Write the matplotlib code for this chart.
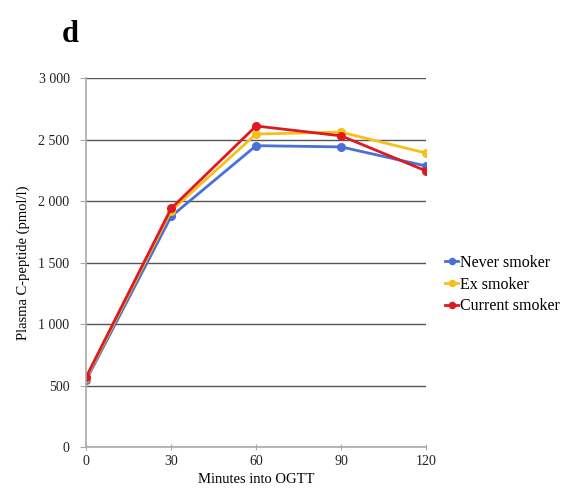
import matplotlib.pyplot as plt
from matplotlib.ticker import FuncFormatter

minutes = [0, 30, 60, 90, 120]
never_smoker = [545, 1875, 2450, 2440, 2285]
ex_smoker = [560, 1920, 2545, 2560, 2390]
current_smoker = [570, 1940, 2610, 2530, 2245]

series = [
    ("Never smoker", never_smoker, "#4a70d6"),
    ("Ex smoker", ex_smoker, "#f7bf1a"),
    ("Current smoker", current_smoker, "#dd1a22"),
]

plt.rcParams["font.family"] = ["Liberation Serif", "DejaVu Serif"]

fig = plt.figure(figsize=(5.71, 4.97), dpi=100)
ax = fig.add_axes([0.151, 0.1006, 0.595, 0.7424])

for name, vals, color in series:
    ax.plot(minutes, vals, color=color, marker="o", markersize=5.5,
            linewidth=2, label=name)

ax.set_xlim(0, 120)
ax.set_ylim(0, 3000)
ax.set_xticks(minutes)
ax.set_yticks(range(0, 3001, 500))
ax.yaxis.set_major_formatter(FuncFormatter(lambda v, p: f"{int(v):,}".replace(",", " ")))
ax.grid(axis="y", color="#555555", linewidth=1)
ax.set_axisbelow(True)

for side in ["top", "right"]:
    ax.spines[side].set_visible(False)
for side in ["left", "bottom"]:
    ax.spines[side].set_color("#aaaaaa")
    ax.spines[side].set_linewidth(1.2)
ax.tick_params(axis="both", colors="#aaaaaa", labelcolor="#222222", labelsize=10, length=4)
ax.tick_params(axis="y", pad=8)
ax.tick_params(axis="x", direction="inout", pad=4)

ax.set_xlabel("Minutes into OGTT", fontsize=10.5, labelpad=3)
ax.set_ylabel("Plasma C-peptide (pmol/l)", fontsize=10.5, labelpad=6)

ax.legend(loc="center left", bbox_to_anchor=(1.015, 0.44), frameon=False,
          fontsize=11.5, handlelength=0.8, handletextpad=0.1, labelspacing=0.35,
          markerscale=0.8)

fig.text(0.108, 0.93, "d", fontsize=22, fontweight="bold", va="center")

fig.savefig("out.png", dpi=100)
